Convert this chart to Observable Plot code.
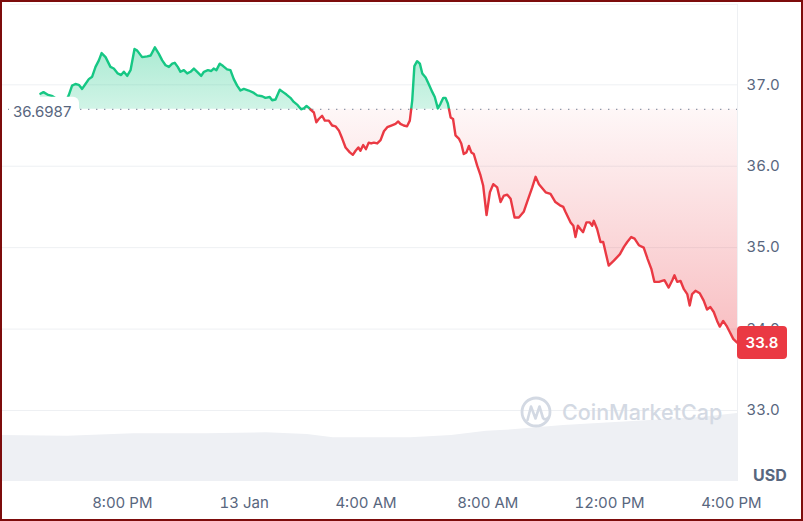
<!DOCTYPE html>
<html>
<head>
<meta charset="utf-8">
<script src="https://cdn.jsdelivr.net/npm/d3@7"></script>
<script src="https://cdn.jsdelivr.net/npm/@observablehq/plot@0.6"></script>
<style>
html, body { margin: 0; padding: 0; background: #fff; }
#wrap { position: relative; width: 803px; height: 521px; overflow: hidden; background: #fff; font-family: Inter, "Noto Sans", sans-serif; }
#wrap svg { position: absolute; left: 0; top: 0; }
#border { position: absolute; left: 0; top: 0; width: 803px; height: 521px; box-sizing: border-box; border: 2px solid #7d0c0c; pointer-events: none; z-index: 10; }
</style>
</head>
<body>
<div id="wrap"><div id="border"></div></div>
<script>
// ---- data (hours since 12 Jan 16:00, price in USD) ----
const hours = [
  1.31,1.41,1.54,1.71,1.87,2.04,2.17,2.24,2.35,2.46,
  2.57,2.68,2.79,2.90,3.01,3.12,3.23,3.32,3.45,3.61,
  3.72,3.85,3.96,4.05,4.16,4.27,4.40,4.49,4.65,4.82,
  4.93,5.07,5.20,5.31,5.42,5.53,5.64,5.72,5.82,5.91,
  6.02,6.13,6.24,6.35,6.46,6.59,6.68,6.81,6.92,7.00,
  7.09,7.20,7.31,7.44,7.55,7.66,7.77,7.88,7.99,8.15,
  8.32,8.43,8.59,8.70,8.84,8.92,9.03,9.17,9.28,9.39,
  9.52,9.63,9.76,9.87,9.96,10.05,10.12,10.20,10.29,10.37,
  10.45,10.56,10.65,10.78,10.89,11.00,11.11,11.22,11.33,11.47,
  11.57,11.66,11.75,11.82,11.91,12.00,12.09,12.17,12.26,12.37,
  12.48,12.59,12.70,12.83,12.97,13.06,13.13,13.24,13.35,13.44,
  13.52,13.59,13.68,13.77,13.85,13.96,14.06,14.18,14.26,14.36,
  14.45,14.54,14.61,14.69,14.78,14.86,14.94,15.05,15.13,15.21,
  15.30,15.38,15.46,15.54,15.65,15.76,15.85,15.96,16.07,16.18,
  16.31,16.42,16.53,16.64,16.75,16.88,17.02,17.18,17.29,17.46,
  17.57,17.68,17.79,17.90,18.06,18.22,18.37,18.48,18.55,18.72,
  18.81,18.88,18.96,19.04,19.13,19.24,19.35,19.43,19.48,19.59,
  19.70,19.79,19.97,20.14,20.34,20.47,20.58,20.71,20.82,20.96,
  21.12,21.25,21.37,21.47,21.62,21.80,21.94,22.06,22.13,22.22,
  22.33,22.44,22.55,22.63,22.71,22.82,22.96,23.09,23.20,23.31,
  23.42,23.53,23.62,23.73,23.84,23.95,24.06,24.17,24.20
];
const price = [
  36.89,36.91,36.88,36.86,36.82,36.80,36.82,36.87,36.99,37.01,
  37.00,36.95,37.01,37.07,37.10,37.22,37.30,37.39,37.34,37.22,
  37.20,37.14,37.12,37.16,37.11,37.18,37.44,37.42,37.34,37.35,
  37.36,37.46,37.38,37.30,37.24,37.22,37.26,37.27,37.22,37.16,
  37.18,37.14,37.16,37.20,37.16,37.11,37.16,37.18,37.17,37.20,
  37.18,37.26,37.23,37.19,37.18,37.07,36.99,36.93,36.95,36.93,
  36.90,36.87,36.86,36.84,36.85,36.81,36.82,36.94,36.91,36.88,
  36.84,36.79,36.75,36.70,36.71,36.74,36.72,36.69,36.66,36.54,
  36.58,36.62,36.56,36.56,36.50,36.49,36.44,36.34,36.23,36.17,
  36.14,36.19,36.23,36.19,36.26,36.21,36.29,36.28,36.29,36.28,
  36.32,36.43,36.48,36.50,36.52,36.55,36.52,36.50,36.49,36.56,
  36.81,37.23,37.29,37.26,37.14,37.09,37.01,36.91,36.85,36.71,
  36.77,36.84,36.84,36.77,36.60,36.58,36.38,36.34,36.28,36.15,
  36.17,36.25,36.17,36.15,36.01,35.89,35.76,35.40,35.68,35.78,
  35.74,35.56,35.64,35.65,35.60,35.37,35.37,35.44,35.56,35.74,
  35.87,35.78,35.73,35.68,35.66,35.56,35.52,35.50,35.44,35.31,
  35.27,35.13,35.27,35.23,35.19,35.31,35.31,35.27,35.33,35.23,
  35.07,35.07,34.78,34.84,34.92,35.01,35.07,35.13,35.11,35.03,
  35.00,34.86,34.74,34.58,34.58,34.60,34.51,34.60,34.66,34.58,
  34.59,34.49,34.43,34.29,34.43,34.47,34.44,34.35,34.24,34.27,
  34.21,34.10,34.03,34.10,34.04,33.96,33.88,33.84,33.83
];
// relative trading volume (arbitrary units) at hours since 12 Jan 16:00
const volHours = [0, 2.2, 4.37, 6.73, 8.73, 10.08, 10.93, 13.46, 14.81, 15.96, 16.81, 18.49, 21.34, 22.98, 24.2];
const volumeRel = [46, 45.3, 47.7, 47.7, 48.7, 47, 43.7, 43.7, 46, 50.3, 51.7, 56, 61, 64, 68];

const basePrice = 36.6987;
const baseLabel = "36.6987";
const lastLabel = "33.8";
const currency = "USD";
const yTicks = [33, 34, 35, 36, 37];
const xTickHours = [4, 8, 12, 16, 20, 24];
const xTickLabels = ["8:00 PM", "13 Jan", "4:00 AM", "8:00 AM", "12:00 PM", "4:00 PM"];
const watermark = "CoinMarketCap";

// ---- build tables ----
const start = new Date(2024, 0, 12, 16, 0);
const toDate = h => new Date(start.getTime() + h * 3600e3);
const GREEN = "#16c784", RED = "#ea3943";

const rows = hours.map((h, i) => ({h, p: price[i]}));
const aug = [];
rows.forEach((r, i) => {
  if (i > 0) {
    const a = rows[i - 1];
    if ((a.p - basePrice) * (r.p - basePrice) < 0) {
      const f = (basePrice - a.p) / (r.p - a.p);
      aug.push({h: a.h + f * (r.h - a.h), p: basePrice, cross: true});
    }
  }
  aug.push({h: r.h, p: r.p});
});
const segs = [];
let seg = 0, side = null;
for (const r of aug) {
  if (r.cross) {
    segs.push({...r, seg, up: side});
    seg++; side = !side;
    segs.push({...r, seg, up: side});
    continue;
  }
  const up = r.p >= basePrice;
  if (side === null) side = up;
  segs.push({...r, seg, up});
}
const volRows = volHours.map((h, i) => ({h, v: volumeRel[i]}));
const xTickDates = xTickHours.map(toDate);
const tickLabelMap = new Map(xTickDates.map((d, i) => [+d, xTickLabels[i]]));

const W = 803, H = 521;
const xDomain = [toDate(0), toDate(24.2)];
const FONT = "Inter, 'Noto Sans', sans-serif";

// ---- volume layer ----
const volPlot = Plot.plot({
  width: W, height: H,
  marginLeft: 0, marginRight: 66, marginTop: 381, marginBottom: 40,
  style: {background: "transparent", overflow: "visible"},
  x: {type: "time", domain: xDomain, axis: null},
  y: {domain: [0, 100], axis: null},
  marks: [
    Plot.areaY(volRows, {x: d => toDate(d.h), y: "v", fill: "#eef0f4"})
  ]
});

// ---- main price layer ----
const defsMark = () => {
  const defs = d3.create("svg:defs");
  const g1 = defs.append("linearGradient").attr("id", "gradGreen").attr("x1", 0).attr("y1", 0).attr("x2", 0).attr("y2", 1);
  g1.append("stop").attr("offset", "0%").attr("stop-color", GREEN).attr("stop-opacity", 0.36);
  g1.append("stop").attr("offset", "100%").attr("stop-color", GREEN).attr("stop-opacity", 0.2);
  const g2 = defs.append("linearGradient").attr("id", "gradRed").attr("x1", 0).attr("y1", 0).attr("x2", 0).attr("y2", 1);
  g2.append("stop").attr("offset", "0%").attr("stop-color", RED).attr("stop-opacity", 0.04);
  g2.append("stop").attr("offset", "100%").attr("stop-color", RED).attr("stop-opacity", 0.33);
  return defs.node();
};

const frameMark = (index, scales, values, dims) => {
  const g = d3.create("svg:g");
  const right = dims.width - dims.marginRight;
  g.append("line").attr("x1", right + 0.5).attr("x2", right + 0.5).attr("y1", 4).attr("y2", 481)
    .attr("stroke", "#eef0f3").attr("stroke-width", 1);
  g.append("line").attr("x1", 10).attr("x2", right).attr("y1", 4.5).attr("y2", 4.5)
    .attr("stroke", "#f3f4f6").attr("stroke-width", 1);
  return g.node();
};

const watermarkMark = () => {
  const g = d3.create("svg:g").attr("fill", "none").attr("stroke", "#d3d9e3");
  g.append("circle").attr("cx", 536).attr("cy", 412).attr("r", 14).attr("stroke-width", 2.8);
  g.append("path").attr("d", "M527.5,420 L531,406.5 L535.5,418.5 L539.5,406.5 L543,418 Q545,421 548.5,417.5")
    .attr("stroke-width", 2.6).attr("stroke-linejoin", "round").attr("stroke-linecap", "round");
  g.append("text").attr("x", 562).attr("y", 419.5).attr("stroke", "none").attr("fill", "#d3d9e3")
    .attr("text-anchor", "start").attr("font-size", 21.5).attr("font-weight", 500).attr("font-family", FONT).text(watermark);
  return g.node();
};

const labelsMark = (index, scales, values, dims) => {
  const {y} = scales;
  const g = d3.create("svg:g").attr("font-family", FONT).attr("text-anchor", "start");
  const right = dims.width - dims.marginRight;
  // baseline value label
  const yb = y(basePrice);
  g.append("rect").attr("x", 9).attr("y", yb - 12).attr("width", 70).attr("height", 26).attr("rx", 6).attr("fill", "#fff");
  g.append("text").attr("x", 13).attr("y", yb + 3).attr("dy", "0.35em").attr("fill", "#58667e")
    .attr("text-anchor", "start").attr("font-size", 15).text(baseLabel);
  // last value label
  const yl = y(price[price.length - 1]);
  g.append("rect").attr("x", right).attr("y", yl - 16.5).attr("width", 50).attr("height", 33).attr("rx", 4).attr("fill", RED);
  g.append("text").attr("x", right + 25).attr("y", yl).attr("dy", "0.35em").attr("text-anchor", "middle")
    .attr("fill", "#fff").attr("font-size", 15).attr("font-weight", 600).text(lastLabel);
  // currency
  g.append("text").attr("x", right + 16).attr("y", 475).attr("dy", "0.35em").attr("fill", "#58667e")
    .attr("text-anchor", "start").attr("font-size", 16).attr("font-weight", 700).text(currency);
  return g.node();
};

const mainPlot = Plot.plot({
  width: W, height: H,
  marginLeft: 0, marginRight: 66, marginTop: 2.9, marginBottom: 29.6,
  style: {background: "transparent", color: "#58667e", fontFamily: FONT, fontSize: "15px", overflow: "visible"},
  x: {type: "time", domain: xDomain, ticks: xTickDates, tickFormat: d => tickLabelMap.get(+d), tickSize: 0, tickPadding: 5, label: null},
  y: {domain: [32, 38], axis: "right", ticks: yTicks, tickFormat: d3.format(".1f"), tickSize: 0, tickPadding: 9, label: null},
  marks: [
    defsMark,
    frameMark,
    Plot.ruleY(yTicks, {stroke: "#eef0f3", strokeWidth: 1}),
    watermarkMark,
    Plot.areaY(aug, {x: d => toDate(d.h), y1: d => basePrice, y2: d => Math.max(d.p, basePrice), fill: "url(#gradGreen)"}),
    Plot.areaY(aug, {x: d => toDate(d.h), y1: d => basePrice, y2: d => Math.min(d.p, basePrice), fill: "url(#gradRed)"}),
    Plot.ruleY([basePrice], {stroke: "#8f99aa", strokeWidth: 1.4, strokeDasharray: "1.4 6.6"}),
    Plot.line(segs.filter(d => d.up), {x: d => toDate(d.h), y: "p", z: "seg", stroke: GREEN, strokeWidth: 2.4, strokeLinejoin: "round"}),
    Plot.line(segs.filter(d => !d.up), {x: d => toDate(d.h), y: "p", z: "seg", stroke: RED, strokeWidth: 2.4, strokeLinejoin: "round"}),
    labelsMark
  ]
});

const wrap = document.getElementById("wrap");
wrap.insertBefore(mainPlot, wrap.firstChild);
wrap.insertBefore(volPlot, wrap.firstChild);
</script>
</body>
</html>
